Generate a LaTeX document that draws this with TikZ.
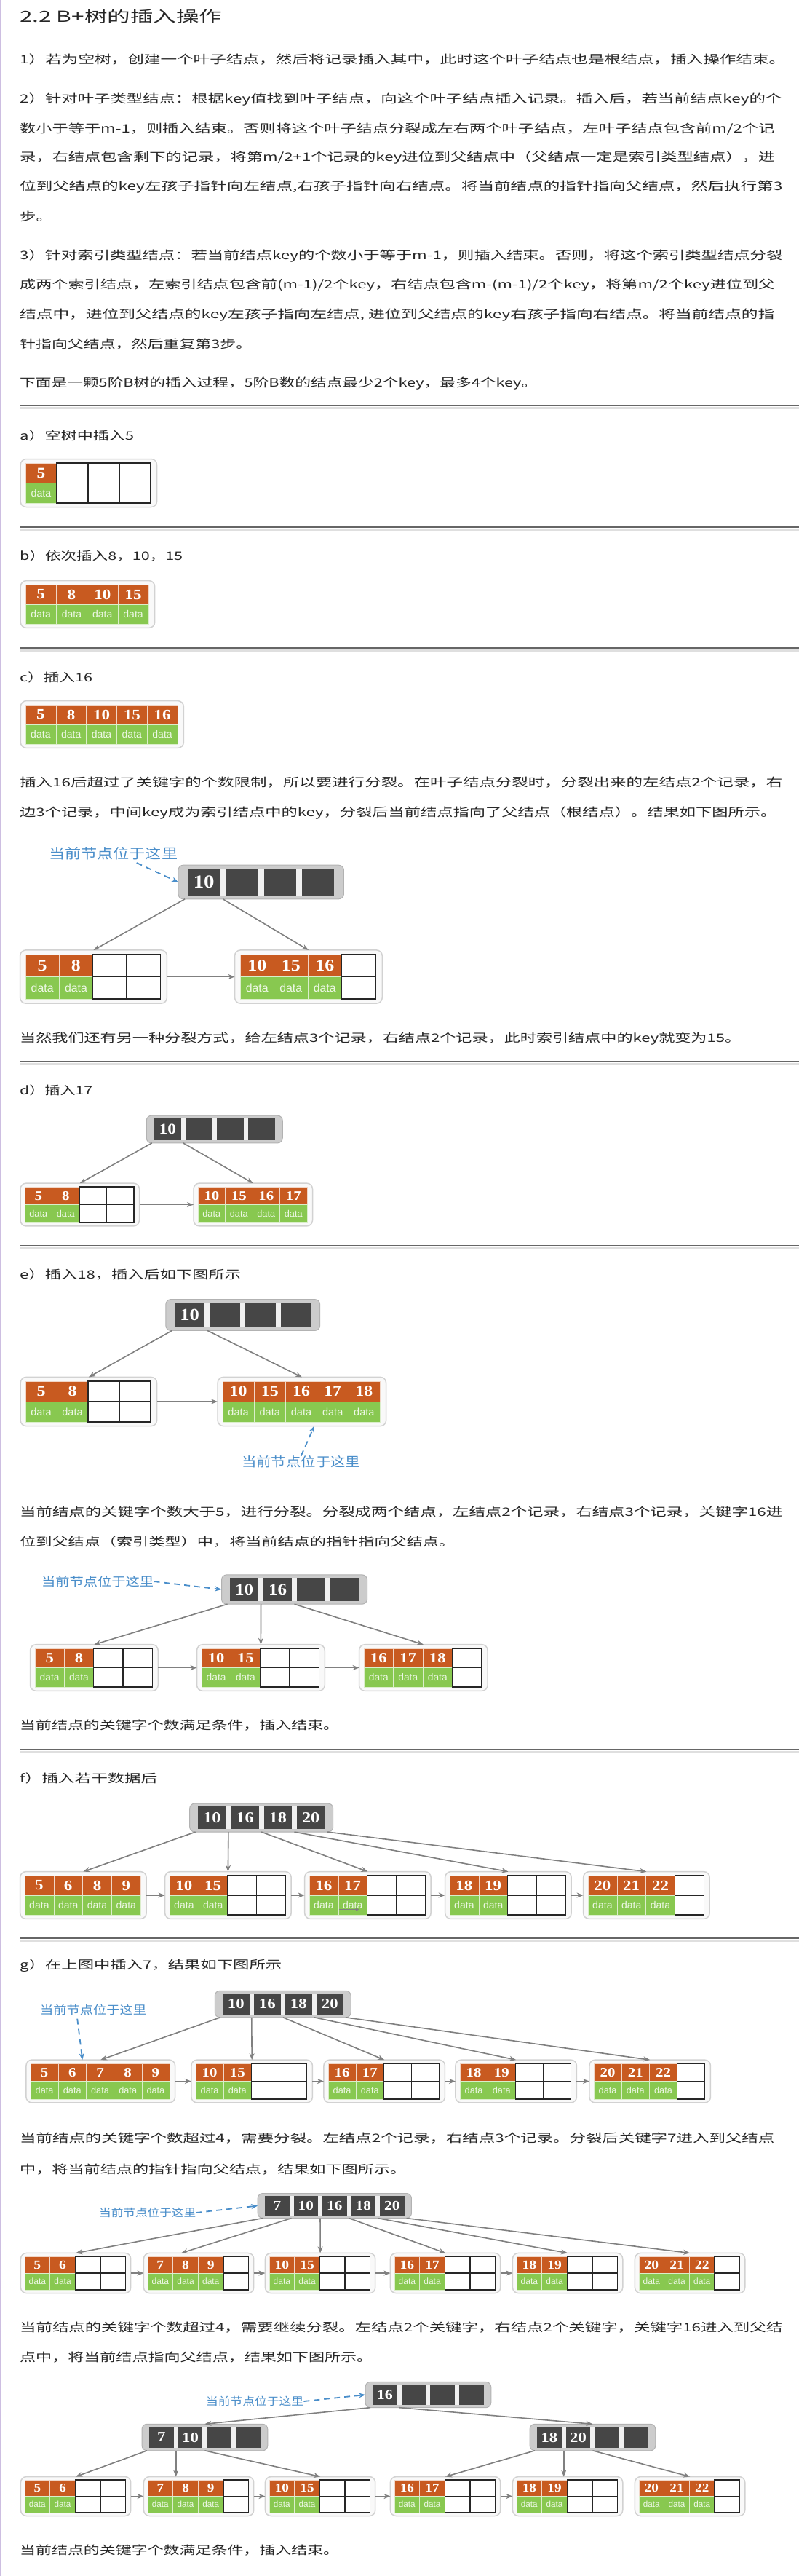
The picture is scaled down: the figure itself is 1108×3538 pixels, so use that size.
\documentclass[tikz,border=0pt]{standalone}
\usepackage{fontspec}
\usepackage{graphicx}
\usetikzlibrary{arrows.meta}
\newfontfamily\cjkfont[FakeStretch=1.4]{Noto Sans CJK SC}
\newfontfamily\notefont[FakeStretch=1.15]{Noto Sans CJK SC}
\newfontfamily\numfont[FakeStretch=1.15]{Liberation Serif}
\newfontfamily\datafont{Liberation Sans}
\definecolor{keyorange}{RGB}{200,90,32}
\definecolor{datagreen}{RGB}{136,200,80}
\definecolor{idxdark}{RGB}{70,70,70}
\definecolor{noteblue}{RGB}{74,142,202}
\definecolor{ptrgray}{RGB}{128,128,128}
\definecolor{edgepurple}{RGB}{205,190,225}

\tikzset{
  txt/.style={anchor=west, inner sep=0pt, text=black!85, font=\cjkfont\fontsize{16}{16}\selectfont},
  note/.style={anchor=west, inner sep=0pt, text=noteblue},
  ptr/.style={draw=ptrgray, line width=1.6pt, -{Stealth[length=9pt,width=7pt]}},
  curptr/.style={draw=noteblue, line width=1.8pt, dash pattern=on 8pt off 6pt, -{Stealth[length=9pt,width=7pt]}},
  leafbox/.style={draw=gray!35, fill=gray!5, line width=1.5pt, rounded corners=8pt, inner sep=0pt, outer sep=0pt},
  idxbox/.style={draw=gray!60, fill=gray!40, line width=1pt, rounded corners=7pt, inner sep=0pt, outer sep=0pt},
  emptycell/.style={draw=black!85, fill=white, line width=1.3pt},
  keycell/.style={fill=keyorange, draw=white!75!keyorange, line width=0.6pt},
  datacell/.style={fill=datagreen, draw=white!70!datagreen, line width=0.6pt},
  keytxt/.style={text=white, inner sep=0pt},
  datatxt/.style={text=white!85!datagreen, inner sep=0pt}
}

\newcommand{\fitto}[2]{\resizebox{#1pt}{\height}{#2}}

\newcommand{\seprule}[1]{%
  \draw[gray!25, line width=3pt] (27,#1+3) -- (1098,#1+3);
  \draw[black!60, line width=1.3pt] (27,#1) -- (1098,#1);
  \draw[black!45, line width=0.8pt] (27,#1) -- (27,#1+5);}

\newcommand{\leafnode}[6]{%
  \foreach \k [count=\i] in {#6} {\xdef\nslots{\i}}%
  \pgfmathsetmacro\fw{(\nslots+0.36)*#4}%
  \pgfmathsetmacro\fh{2.4*#5}%
  \pgfmathsetmacro\kfs{0.74*#5}%
  \pgfmathsetmacro\dfs{0.52*#5}%
  \node[leafbox, minimum width=\fw pt, minimum height=\fh pt, anchor=north west] (#1) at ({#2-0.16*#4},{#3-0.2*#5}) {};
  \foreach \k [count=\i] in {#6} {%
    \pgfmathsetmacro\cellx{#2+(\i-1)*#4}%
    \ifnum\k=0
      \draw[emptycell] (\cellx,#3) rectangle ++(#4,#5);
      \draw[emptycell] (\cellx,#3+#5) rectangle ++(#4,#5);
    \else
      \filldraw[keycell] (\cellx,#3) rectangle ++(#4,#5);
      \filldraw[datacell] (\cellx,#3+#5) rectangle ++(#4,#5);
      \node[keytxt, font=\numfont\bfseries\fontsize{\kfs}{\kfs}\selectfont] (#1-k\i) at (\cellx+#4/2,#3+#5/2) {\k};
      \node[datatxt, font=\datafont\fontsize{\dfs}{\dfs}\selectfont] (#1-d\i) at (\cellx+#4/2,#3+1.5*#5) {data};
    \fi}%
}

\newcommand{\indexnode}[6]{%
  \foreach \k [count=\i] in {#6} {\xdef\nslots{\i}}%
  \pgfmathsetmacro\cellgap{0.15*#4}%
  \pgfmathsetmacro\cellspan{\nslots*#4-\cellgap}%
  \pgfmathsetmacro\fw{\cellspan+0.5*#4}%
  \pgfmathsetmacro\fh{1.26*#5}%
  \pgfmathsetmacro\kfs{0.68*#5}%
  \pgfmathtruncatemacro\plast{\nslots+1}%
  \node[idxbox, minimum width=\fw pt, minimum height=\fh pt, anchor=north west] (#1) at ({#2-0.25*#4},{#3-0.13*#5}) {};
  \fill[gray!12] (#2,#3) rectangle ++(\cellspan,#5);
  \foreach \k [count=\i] in {#6} {%
    \pgfmathsetmacro\cellx{#2+(\i-1)*#4}%
    \fill[idxdark] (\cellx,#3) rectangle ++(#4-\cellgap,#5);
    \coordinate (#1-p\i) at ({\cellx-\cellgap/2},{#3+1.13*#5});
    \ifnum\k=0 \else
      \node[keytxt, font=\numfont\bfseries\fontsize{\kfs}{\kfs}\selectfont] (#1-k\i) at ({\cellx+(#4-\cellgap)/2},{#3+#5/2}) {\k};
    \fi}%
  \coordinate (#1-p\plast) at ({#2+\nslots*#4-\cellgap/2},{#3+1.13*#5});
}

\begin{document}
\begin{tikzpicture}[x=1pt, y=-1pt]
  \fill[white] (0,0) rectangle (1108,3538);
  \useasboundingbox (0,0) rectangle (1108,3538);
  \draw[edgepurple, line width=1.5pt] (1,0) -- (1,3538);

  \node[txt, font=\cjkfont\fontsize{21}{21}\selectfont] (title) at (27,22) {\fitto{278}{2.2 B+树的插入操作}};
  \node[txt] (p1) at (27,82) {\fitto{1052}{1）若为空树，创建一个叶子结点，然后将记录插入其中，此时这个叶子结点也是根结点，插入操作结束。}};
  \node[txt] (p2a) at (27,137) {\fitto{1047}{2）针对叶子类型结点：根据key值找到叶子结点，向这个叶子结点插入记录。插入后，若当前结点key的个}};
  \node[txt] (p2b) at (27,177) {\fitto{1037}{数小于等于m-1，则插入结束。否则将这个叶子结点分裂成左右两个叶子结点，左叶子结点包含前m/2个记}};
  \node[txt] (p2c) at (27,217) {\fitto{1037}{录，右结点包含剩下的记录，将第m/2+1个记录的key进位到父结点中（父结点一定是索引类型结点），进}};
  \node[txt] (p2d) at (27,257) {\fitto{1048}{位到父结点的key左孩子指针向左结点,右孩子指针向右结点。将当前结点的指针指向父结点，然后执行第3}};
  \node[txt] (p2e) at (27,297) {步。};
  \node[txt] (p3a) at (27,352) {\fitto{1048}{3）针对索引类型结点：若当前结点key的个数小于等于m-1，则插入结束。否则，将这个索引类型结点分裂}};
  \node[txt] (p3b) at (27,392) {\fitto{1037}{成两个索引结点，左索引结点包含前(m-1)/2个key，右结点包含m-(m-1)/2个key，将第m/2个key进位到父}};
  \node[txt] (p3c) at (27,433) {\fitto{1037}{结点中，进位到父结点的key左孩子指向左结点, 进位到父结点的key右孩子指向右结点。将当前结点的指}};
  \node[txt] (p3d) at (27,473) {\fitto{319}{针指向父结点，然后重复第3步。}};
  \node[txt] (p4) at (27,527) {\fitto{711}{下面是一颗5阶B树的插入过程，5阶B数的结点最少2个key，最多4个key。}};
  \seprule{557}

  \node[txt] (labA) at (27,598) {\fitto{157}{a）空树中插入5}};
  \leafnode{leafA}{35}{636}{43}{27.5}{5,0,0,0}
  \seprule{724}

  \node[txt] (labB) at (27,763) {\fitto{224}{b）依次插入8，10，15}};
  \leafnode{leafB}{35}{803}{42.3}{27}{5,8,10,15}
  \seprule{890}

  \node[txt] (labC) at (27,930) {\fitto{100}{c）插入16}};
  \leafnode{leafC}{35}{968}{41.8}{27}{5,8,10,15,16}
  \node[txt] (txtC1) at (27,1075) {\fitto{1048}{插入16后超过了关键字的个数限制，所以要进行分裂。在叶子结点分裂时，分裂出来的左结点2个记录，右}};
  \node[txt] (txtC2) at (27,1117) {\fitto{1040}{边3个记录，中间key成为索引结点中的key，分裂后当前结点指向了父结点（根结点）。结果如下图所示。}};
  \indexnode{rootC}{258}{1193}{52.3}{37}{10,0,0,0}
  \leafnode{leafC1}{35}{1311}{46.3}{30.5}{5,8,0,0}
  \leafnode{leafC2}{330}{1311}{46.5}{30.5}{10,15,16,0}
  \node[note, font=\notefont\fontsize{19}{19}\selectfont] (curC) at (67,1172) {\fitto{177}{当前节点位于这里}};
  \draw[curptr] ([xshift=32pt,yshift=-4pt]curC.south) -- (rootC.west);
  \draw[ptr] (rootC-p1) -- (leafC1.north); \draw[ptr] (rootC-p2) -- (leafC2.north);
  \draw[ptr] (leafC1.east) -- (leafC2.west);
  \node[txt] (txtC3) at (27,1427) {\fitto{991}{当然我们还有另一种分裂方式，给左结点3个记录，右结点2个记录，此时索引结点中的key就变为15。}};
  \seprule{1458}

  \node[txt] (labD) at (27,1497) {\fitto{100}{d）插入17}};
  \indexnode{rootD}{212}{1536}{43}{30}{10,0,0,0}
  \leafnode{leafD1}{34}{1630}{37.5}{24.5}{5,8,0,0}
  \leafnode{leafD2}{272}{1630}{37.5}{24.5}{10,15,16,17}
  \draw[ptr] (rootD-p1) -- (leafD1.north); \draw[ptr] (rootD-p2) -- (leafD2.north);
  \draw[ptr] (leafD1.east) -- (leafD2.west);
  \seprule{1711}

  \node[txt] (labE) at (27,1750) {\fitto{304}{e）插入18，插入后如下图所示}};
  \indexnode{rootE}{240}{1789}{48.7}{34}{10,0,0,0}
  \leafnode{leafE1}{35}{1897}{43}{28}{5,8,0,0}
  \leafnode{leafE2}{306}{1897}{43.2}{28}{10,15,16,17,18}
  \draw[ptr] (rootE-p1) -- (leafE1.north); \draw[ptr] (rootE-p2) -- (leafE2.north);
  \draw[ptr] (leafE1.east) -- (leafE2.west);
  \node[note, font=\notefont\fontsize{17.7}{17.7}\selectfont] (curE) at (332,2008) {\fitto{163}{当前节点位于这里}};
  \draw[curptr] (curE.north) -- ([xshift=17pt]leafE2.south);

  \node[txt] (txtE1) at (27,2077) {\fitto{1048}{当前结点的关键字个数大于5，进行分裂。分裂成两个结点，左结点2个记录，右结点3个记录，关键字16进}};
  \node[txt] (txtE2) at (27,2117) {\fitto{598}{位到父结点（索引类型）中，将当前结点的指针指向父结点。}};
  \indexnode{rootEE}{316}{2167}{46}{32}{10,16,0,0}
  \leafnode{leafEE1}{48}{2264}{40.3}{26.5}{5,8,0,0}
  \leafnode{leafEE2}{277}{2264}{40.3}{26.5}{10,15,0,0}
  \leafnode{leafEE3}{500}{2264}{40.5}{26.5}{16,17,18,0}
  \node[note, font=\notefont\fontsize{16.7}{16.7}\selectfont] (curEE) at (57,2172) {\fitto{154}{当前节点位于这里}};
  \draw[curptr] (curEE.east) -- (rootEE.west);
  \draw[ptr] (rootEE-p1) -- (leafEE1.north); \draw[ptr] (rootEE-p2) -- (leafEE2.north);
  \draw[ptr] (rootEE-p3) -- (leafEE3.north);
  \draw[ptr] (leafEE1.east) -- (leafEE2.west); \draw[ptr] (leafEE2.east) -- (leafEE3.west);
  \node[txt] (txtE3) at (27,2370) {\fitto{439}{当前结点的关键字个数满足条件，插入结束。}};
  \seprule{2403}

  \node[txt] (labF) at (27,2442) {\fitto{189}{f）插入若干数据后}};
  \indexnode{rootF}{272}{2481}{45.3}{31}{10,16,18,20}
  \leafnode{F1}{34}{2576}{39.8}{27}{5,6,8,9}
  \leafnode{F2}{233}{2576}{39.8}{27}{10,15,0,0}
  \leafnode{F3}{425}{2576}{39.8}{27}{16,17,0,0}
  \leafnode{F4}{618}{2576}{39.8}{27}{18,19,0,0}
  \leafnode{F5}{808}{2576}{39.8}{27}{20,21,22,0}
  \draw[ptr] (rootF-p1) -- (F1.north); \draw[ptr] (rootF-p2) -- (F2.north);
  \draw[ptr] (rootF-p3) -- (F3.north); \draw[ptr] (rootF-p4) -- (F4.north);
  \draw[ptr] (rootF-p5) -- (F5.north);
  \draw[ptr] (F1.east) -- (F2.west); \draw[ptr] (F2.east) -- (F3.west);
  \draw[ptr] (F3.east) -- (F4.west); \draw[ptr] (F4.east) -- (F5.west);
  \draw[ptr, -{Stealth[length=6pt,width=5pt]}] ([xshift=-5pt,yshift=-6pt]F3-d2.west) -- ++(28,0);
  \seprule{2662}

  \node[txt] (labG) at (27,2700) {\fitto{360}{g）在上图中插入7，结果如下图所示}};
  \indexnode{rootG}{306}{2738}{43}{29}{10,16,18,20}
  \leafnode{G11}{42}{2834}{38.2}{24.5}{5,6,7,8,9}
  \leafnode{G12}{269}{2834}{38.2}{24.5}{10,15,0,0}
  \leafnode{G13}{451}{2834}{38.2}{24.5}{16,17,0,0}
  \leafnode{G14}{632}{2834}{38.2}{24.5}{18,19,0,0}
  \leafnode{G15}{816}{2834}{38.2}{24.5}{20,21,22,0}
  \node[note, font=\notefont\fontsize{15.9}{15.9}\selectfont] (curG) at (55,2760) {\fitto{146}{当前节点位于这里}};
  \draw[curptr] ([xshift=-22pt,yshift=-5pt]curG.south) -- ([xshift=-25pt]G11.north);
  \draw[ptr] (rootG-p1) -- (G11.north); \draw[ptr] (rootG-p2) -- (G12.north);
  \draw[ptr] (rootG-p3) -- (G13.north); \draw[ptr] (rootG-p4) -- (G14.north);
  \draw[ptr] (rootG-p5) -- (G15.north);
  \draw[ptr] (G11.east) -- (G12.west); \draw[ptr] (G12.east) -- (G13.west);
  \draw[ptr] (G13.east) -- (G14.west); \draw[ptr] (G14.east) -- (G15.west);

  \node[txt] (txtG1) at (27,2937) {\fitto{1037}{当前结点的关键字个数超过4，需要分裂。左结点2个记录，右结点3个记录。分裂后关键字7进入到父结点}};
  \node[txt] (txtG2) at (27,2980) {\fitto{531}{中，将当前结点的指针指向父结点，结果如下图所示。}};
  \indexnode{rootGG}{364}{3016}{39.5}{27}{7,10,16,18,20}
  \leafnode{G21}{34}{3099}{34.7}{23}{5,6,0,0}
  \leafnode{G22}{203}{3099}{34.7}{23}{7,8,9,0}
  \leafnode{G23}{370}{3099}{34.7}{23}{10,15,0,0}
  \leafnode{G24}{542}{3099}{34.7}{23}{16,17,0,0}
  \leafnode{G25}{710}{3099}{34.7}{23}{18,19,0,0}
  \leafnode{G26}{878}{3099}{34.7}{23}{20,21,22,0}
  \node[note, font=\notefont\fontsize{14.5}{14.5}\selectfont] (curGG) at (136,3039) {\fitto{133}{当前节点位于这里}};
  \draw[curptr] (curGG.east) -- (rootGG.west);
  \draw[ptr] (rootGG-p1) -- (G21.north); \draw[ptr] (rootGG-p2) -- ([xshift=-24pt]G22.north);
  \draw[ptr] (rootGG-p3) -- (G23.north); \draw[ptr] (rootGG-p4) -- (G24.north);
  \draw[ptr] (rootGG-p5) -- (G25.north); \draw[ptr] (rootGG-p6) -- (G26.north);
  \draw[ptr] (G21.east) -- (G22.west); \draw[ptr] (G22.east) -- (G23.west);
  \draw[ptr] (G23.east) -- (G24.west); \draw[ptr] (G24.east) -- (G25.west);

  \node[txt] (txtG3) at (27,3197) {\fitto{1048}{当前结点的关键字个数超过4，需要继续分裂。左结点2个关键字，右结点2个关键字，关键字16进入到父结}};
  \node[txt] (txtG4) at (27,3238) {\fitto{485}{点中，将当前结点指向父结点，结果如下图所示。}};
  \indexnode{rootGGG}{512}{3275}{39.7}{28}{16,0,0,0}
  \indexnode{midL}{205}{3333}{39.7}{29}{7,10,0,0}
  \indexnode{midR}{738}{3333}{39.7}{29}{18,20,0,0}
  \leafnode{G31}{34}{3406}{34.7}{22.5}{5,6,0,0}
  \leafnode{G32}{203}{3406}{34.7}{22.5}{7,8,9,0}
  \leafnode{G33}{370}{3406}{34.7}{22.5}{10,15,0,0}
  \leafnode{G34}{542}{3406}{34.7}{22.5}{16,17,0,0}
  \leafnode{G35}{710}{3406}{34.7}{22.5}{18,19,0,0}
  \leafnode{G36}{878}{3406}{34.7}{22.5}{20,21,22,0}
  \node[note, font=\notefont\fontsize{14.6}{14.6}\selectfont] (curGGG) at (283,3298) {\fitto{134}{当前节点位于这里}};
  \draw[curptr] (curGGG.east) -- (rootGGG.west);
  \draw[ptr] (rootGGG-p1) -- (midL.north); \draw[ptr] (rootGGG-p2) -- (midR.north);
  \draw[ptr] (midL-p1) -- (G31.north); \draw[ptr] (midL-p2) -- (midL-p2 |- G32.north);
  \draw[ptr] (midL-p3) -- (G33.north);
  \draw[ptr] (midR-p1) -- (G34.north); \draw[ptr] (midR-p2) -- (midR-p2 |- G35.north);
  \draw[ptr] (midR-p3) -- (G36.north);
  \draw[ptr] (G31.east) -- (G32.west); \draw[ptr] (G32.east) -- (G33.west);
  \draw[ptr] (G33.east) -- (G34.west); \draw[ptr] (G34.east) -- (G35.west);
  \node[txt] (txtEnd) at (27,3503) {\fitto{439}{当前结点的关键字个数满足条件，插入结束。}};
\end{tikzpicture}
\end{document}
